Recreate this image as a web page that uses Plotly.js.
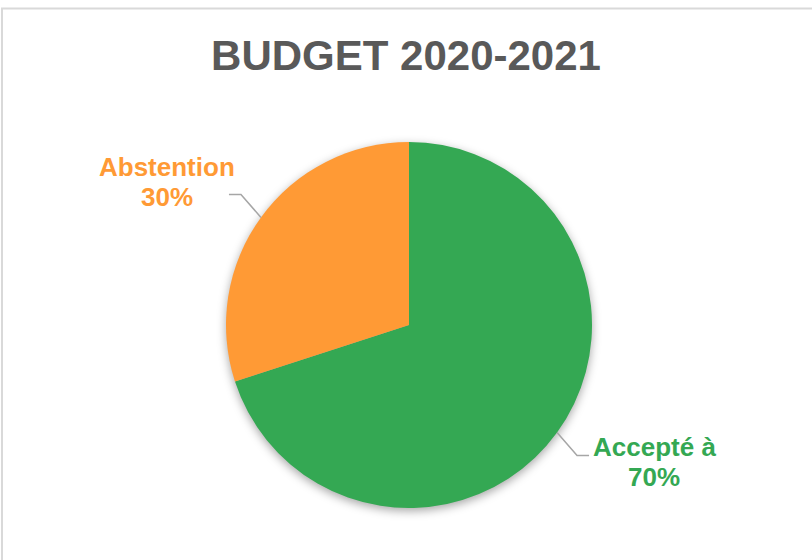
<!DOCTYPE html>
<html>
<head>
<meta charset="utf-8">
<script src="https://cdn.plot.ly/plotly-3.0.1.min.js"></script>
<style>
  html, body { margin: 0; padding: 0; background: #ffffff; }
  #chart { width: 812px; height: 560px; }
  .pielayer { filter: drop-shadow(0px 3px 5px rgba(0,0,0,0.35)); }
</style>
</head>
<body>
<div id="chart"></div>
<script>
// ---- data ----
const chartTitle = "BUDGET 2020-2021";
const categories = ["Accepté à", "Abstention"];
const values = [70, 30];
const colors = ["#34A853", "#FF9A35"];

// ---- layout constants ----
const W = 812, H = 560;
const cx = 409, cy = 325, R = 183;
const FONT = "Liberation Sans, Arial, sans-serif";

const px = x => x / W;
const py = y => 1 - y / H;

const total = values.reduce((a, b) => a + b, 0);
const shapes = [];
const annotations = [];

// border frame
shapes.push({
  type: "rect", xref: "paper", yref: "paper",
  x0: px(2), x1: px(W + 20), y0: py(8.5), y1: py(H + 20),
  line: { color: "#d9d9d9", width: 2 }, fillcolor: "rgba(0,0,0,0)", layer: "below"
});

let cum = 0;
values.forEach((v, i) => {
  const mid = (cum + v / 2) / total * 2 * Math.PI;
  cum += v;
  const s = Math.sin(mid), c = Math.cos(mid);
  const ex = cx + R * s, ey = cy - R * c;
  const sx = s >= 0 ? 1 : -1;
  const sy = -c >= 0 ? 1 : -1;
  const bx = ex + sx * 20, by = ey + sy * 23;
  const tx = bx + sx * 12;
  shapes.push({
    type: "path", xref: "paper", yref: "paper",
    path: `M ${px(ex)} ${py(ey)} L ${px(bx)} ${py(by)} L ${px(tx)} ${py(by)}`,
    line: { color: "#a6a6a6", width: 1.5 }
  });
  const pct = Math.round(v / total * 100);
  const centerX = sx > 0 ? tx + 65 : tx - 62;
  const line1Y = sy > 0 ? by - 9 : by - 27;
  const lines = [categories[i], `${pct}%`];
  lines.forEach((t, k) => {
    annotations.push({
      xref: "paper", yref: "paper",
      x: px(centerX), y: py(line1Y + k * 30),
      xanchor: "center", yanchor: "middle",
      showarrow: false, text: t,
      font: { family: FONT, size: 26, color: colors[i], weight: "bold" }
    });
  });
});

const trace = {
  type: "pie",
  labels: categories,
  values: values,
  marker: { colors: colors, line: { width: 0 } },
  sort: false,
  direction: "clockwise",
  rotation: 0,
  textinfo: "none",
  hoverinfo: "label+percent",
  showlegend: false,
  domain: { x: [px(cx - R), px(cx + R)], y: [py(cy + R), py(cy - R)] }
};

const layout = {
  width: W, height: H,
  margin: { l: 0, r: 0, t: 0, b: 0 },
  paper_bgcolor: "#ffffff",
  title: {
    text: chartTitle,
    x: 0.5, xref: "paper", xanchor: "center",
    y: py(55), yref: "paper", yanchor: "middle",
    font: { family: FONT, size: 42, color: "#595959", weight: "bold" }
  },
  shapes: shapes,
  annotations: annotations,
  showlegend: false
};

Plotly.newPlot("chart", [trace], layout, { displayModeBar: false, staticPlot: true });
</script>
</body>
</html>
